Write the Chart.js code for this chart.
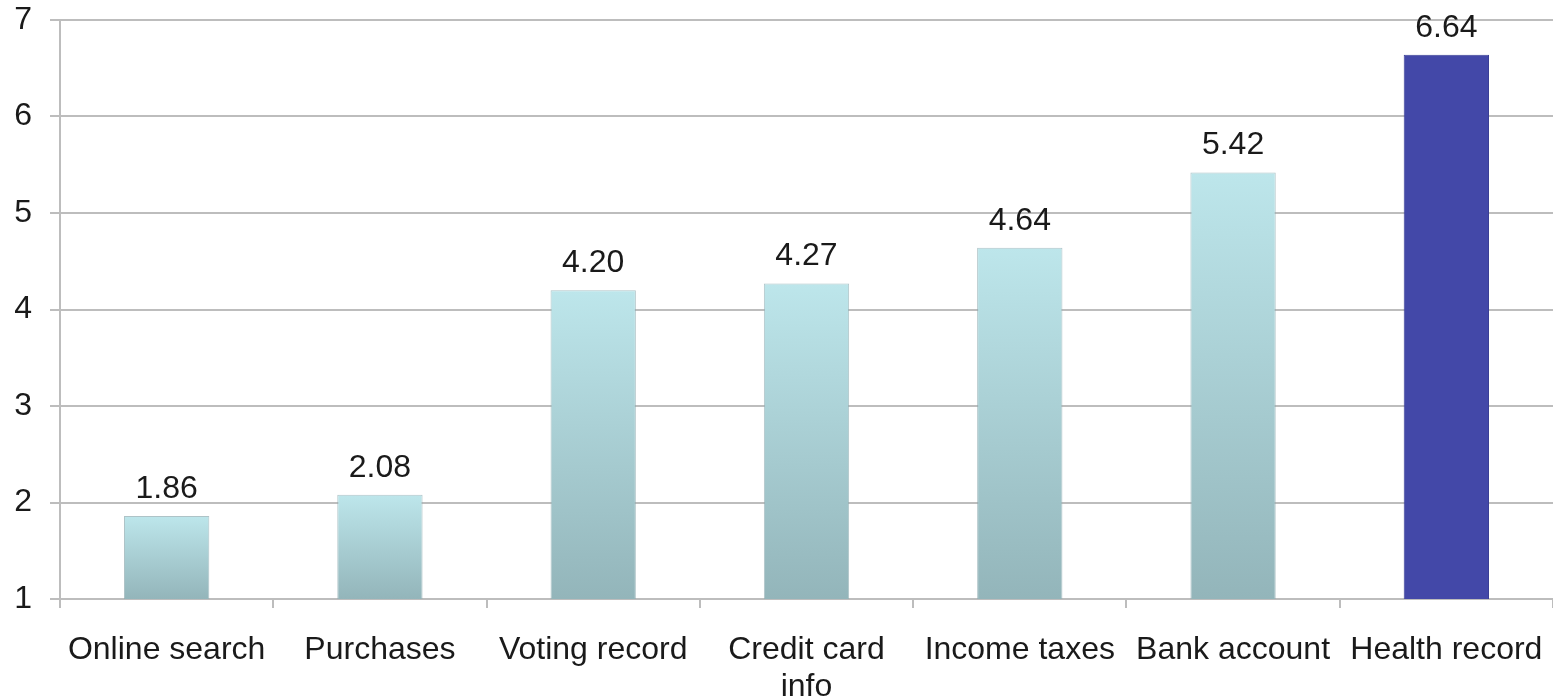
<!DOCTYPE html>
<html>
<head>
<meta charset="utf-8">
<script src="https://cdn.jsdelivr.net/npm/chart.js@4.4.0/dist/chart.umd.min.js"></script>
<style>
  html, body { margin: 0; padding: 0; background: #fff; }
  #wrap { width: 1553px; height: 699px; }
</style>
</head>
<body>
<div id="wrap"><canvas id="chart" width="1553" height="699"></canvas></div>
<script>
const categories = [
  "Online search",
  "Purchases",
  "Voting record",
  ["Credit card", "info"],
  "Income taxes",
  "Bank account",
  "Health record"
];
const scores = [1.86, 2.08, 4.20, 4.27, 4.64, 5.42, 6.64];
const highlightIndex = 6;
const yTicks = [1, 2, 3, 4, 5, 6, 7];

const FONT = "'Liberation Sans', Arial, Helvetica, sans-serif";
const GRID = "#bdbdbd";
const TEXT = "#1a1a1a";

// light cyan fading to grey-teal, one gradient per bar
function barFill(ctx) {
  const chart = ctx.chart;
  if (ctx.dataIndex === highlightIndex) return "#4348a8";
  const area = chart.chartArea;
  if (!area) return "#a9ccd1";
  const top = chart.scales.y.getPixelForValue(ctx.raw);
  const g = chart.ctx.createLinearGradient(0, top, 0, area.bottom);
  g.addColorStop(0, "#bde6eb");
  g.addColorStop(1, "#93b5ba");
  return g;
}

// numbers printed above each bar
const valueLabels = {
  id: "valueLabels",
  afterDatasetsDraw(chart) {
    const ctx = chart.ctx;
    const meta = chart.getDatasetMeta(0);
    ctx.save();
    ctx.font = "32px " + FONT;
    ctx.fillStyle = TEXT;
    ctx.textAlign = "center";
    ctx.textBaseline = "alphabetic";
    meta.data.forEach((bar, i) => {
      ctx.fillText(scores[i].toFixed(2), bar.x, bar.y - 18);
    });
    ctx.restore();
  }
};

new Chart(document.getElementById("chart"), {
  type: "bar",
  data: {
    labels: categories,
    datasets: [{
      data: scores,
      backgroundColor: barFill,
      borderColor: (c) => c.dataIndex === highlightIndex ? "#3a3f96" : "rgba(140,170,175,0.7)",
      borderWidth: 1,
      barPercentage: 0.8,
      categoryPercentage: 0.5
    }]
  },
  options: {
    responsive: false,
    animation: false,
    devicePixelRatio: 1,
    layout: { padding: { top: 20, right: 0, left: 0, bottom: 0 } },
    plugins: {
      legend: { display: false },
      tooltip: { enabled: false }
    },
    scales: {
      x: {
        afterFit(scale) {
          scale.height = 100;
          scale.paddingLeft = 0;
          scale.paddingRight = 0;
        },
        grid: {
          offset: true,
          drawOnChartArea: false,
          color: GRID,
          lineWidth: 2,
          tickLength: 9
        },
        border: { color: GRID, width: 2 },
        ticks: {
          color: TEXT,
          font: { family: FONT, size: 32, lineHeight: 1.15 },
          padding: 24,
          maxRotation: 0,
          autoSkip: false
        }
      },
      y: {
        min: yTicks[0],
        max: yTicks[yTicks.length - 1],
        afterFit(scale) {
          scale.width = 60;
          scale.paddingTop = 0;
          scale.paddingBottom = 0;
        },
        afterBuildTicks(scale) { scale.ticks = yTicks.map(v => ({ value: v })); },
        grid: { color: GRID, lineWidth: 2, tickLength: 10 },
        border: { color: GRID, width: 2 },
        ticks: {
          color: TEXT,
          font: { family: FONT, size: 32 },
          padding: 18
        }
      }
    }
  },
  plugins: [valueLabels]
});
</script>
</body>
</html>
